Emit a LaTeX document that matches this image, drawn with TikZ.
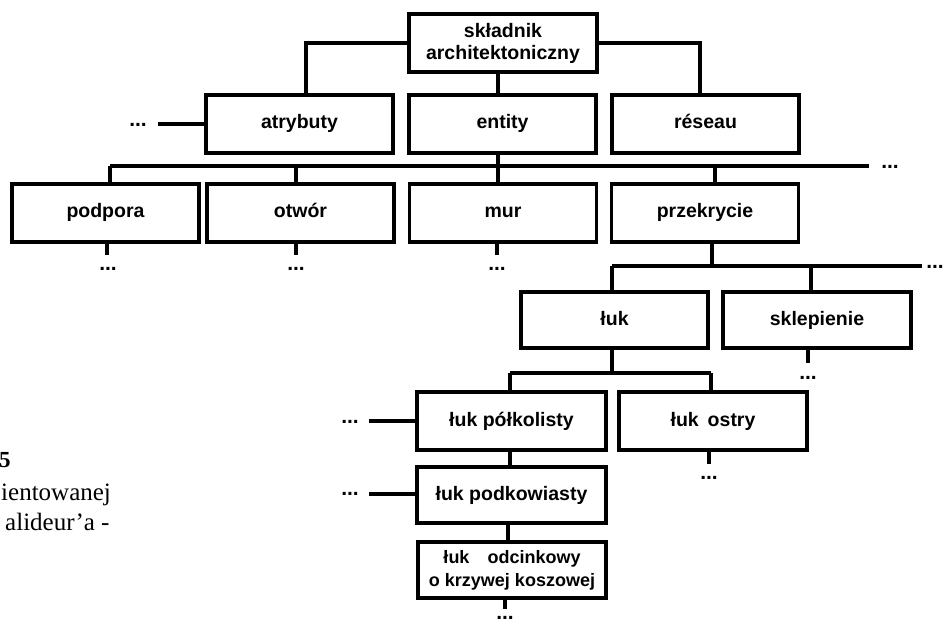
\documentclass[tikz,border=0pt]{standalone}
\usepackage{fontspec}
\setmainfont{Liberation Serif}
\newfontfamily\boxfont{Liberation Sans}
\tikzset{
  boxbase/.style={draw, line width=3.2pt, minimum width=187pt, minimum height=58pt,
    inner sep=0pt, align=center, font=\boxfont\bfseries\fontsize{19.5}{22}\selectfont},
  box/.style={boxbase, text height=14pt, text depth=4pt},
  wire/.style={line width=3.2pt},
  dots/.style={anchor=base, inner sep=0pt, font=\boxfont\bfseries\fontsize{21}{24}\selectfont},
  caption/.style={anchor=base west, inner sep=0pt, font=\fontsize{25}{30}\selectfont},
}
\begin{document}
\begin{tikzpicture}[x=1pt,y=-1pt]
\useasboundingbox (0,0) rectangle (944,628);
\clip (0,0) rectangle (944,628);

% boxes
\node[boxbase, minimum width=188pt] (top) at (503,43) {składnik\\architektoniczny};
\node[box] (atr) at (299.5,124) {atrybuty};
\node[box] (ent) at (502.5,124) {entity};
\node[box] (res) at (705.5,124) {réseau};
\node[box] (pod) at (105.5,213) {podpora};
\node[box] (otw) at (300.5,213) {otwór};
\node[box] (mur) at (503,213) {mur};
\node[box] (prz) at (705,213) {przekrycie};
\node[box, minimum height=56pt] (luk) at (614.5,320) {łuk};
\node[box, minimum height=56pt, minimum width=188pt] (skl) at (817,320) {sklepienie};
\node[box, minimum width=189pt] (polk) at (511.5,421) {łuk półkolisty};
\node[box, minimum width=188pt] (ostry) at (713,421) {łuk\hspace{9pt}ostry};
\node[box, minimum height=56pt, minimum width=189pt] (podk) at (511.5,495) {łuk podkowiasty};
\node[boxbase, minimum height=56pt, minimum width=188pt,
      font=\boxfont\bfseries\fontsize{18}{23}\selectfont] (odc) at (512,570)
      {łuk\hspace{18pt}odcinkowy\\o krzywej koszowej};

% caption fragments
\node[anchor=base west, inner sep=0pt, font=\bfseries\fontsize{23}{26}\selectfont] (c5) at (-1,467) {5};
\node[caption] (c6) at (1,500) {ientowanej};
\node[caption] (c7) at (5,530) {alideur’a -};

% dots
\node[dots] (datr) at (138,127) {...};
\node[dots] (dbus1) at (890,169) {...};
\node[dots] (dpod) at (108,270) {...};
\node[dots] (dotw) at (296,270) {...};
\node[dots] (dmur) at (497,270) {...};
\node[dots] (dbus2) at (935,268) {...};
\node[dots] (dskl) at (808,379) {...};
\node[dots] (dostry) at (709,479) {...};
\node[dots] (dpolk) at (350,423) {...};
\node[dots] (dpodk) at (350,495) {...};
\node[dots] (dodc) at (505,619) {...};

% coordinates
\coordinate (catr) at (158,124);
\coordinate (b1a) at (110,166);
\coordinate (b1b) at (296,166);
\coordinate (b1c) at (498,166);
\coordinate (b1d) at (715,166);
\coordinate (b1e) at (869,166);
\coordinate (u1) at (107,255);
\coordinate (u2) at (296,255);
\coordinate (u3) at (497,255);
\coordinate (b2a) at (612,266);
\coordinate (b2b) at (712,266);
\coordinate (b2c) at (811,266);
\coordinate (b2e) at (922,266);
\coordinate (u4) at (808,363);
\coordinate (b3a) at (510,373);
\coordinate (b3b) at (612,373);
\coordinate (b3c) at (711,373);
\coordinate (u5) at (709,464);
\coordinate (cpolk) at (369,421);
\coordinate (cpodk) at (369,494);
\coordinate (v1) at (510,458);
\coordinate (v2) at (508,532);
\coordinate (u6) at (505,609);

% top level
\draw[wire] (top.west) -| ([xshift=6.5pt]atr.north);
\draw[wire] (top.east) -| ([xshift=-5.5pt]res.north);
\draw[wire] ([xshift=-5pt]top.south) -- ([xshift=-4.5pt]ent.north);
\draw[wire] (atr.west) -- (catr);

% bus 1
\draw[wire] (b1a) -- (b1e);
\draw[wire] (b1c |- ent.south) -- (b1c);
\draw[wire] (b1a) -- (b1a |- pod.north);
\draw[wire] (b1b) -- (b1b |- otw.north);
\draw[wire] (b1c) -- (b1c |- mur.north);
\draw[wire] (b1d) -- (b1d |- prz.north);
\draw[wire] (u1 |- pod.south) -- (u1);
\draw[wire] (u2 |- otw.south) -- (u2);
\draw[wire] (u3 |- mur.south) -- (u3);

% bus 2
\draw[wire] (b2a) -- (b2e);
\draw[wire] (b2b |- prz.south) -- (b2b);
\draw[wire] (b2a) -- (b2a |- luk.north);
\draw[wire] (b2c) -- (b2c |- skl.north);
\draw[wire] (u4 |- skl.south) -- (u4);

% bus 3
\draw[wire] (b3a) -- (b3c);
\draw[wire] (b3b |- luk.south) -- (b3b);
\draw[wire] (b3a) -- (b3a |- polk.north);
\draw[wire] (b3c) -- (b3c |- ostry.north);
\draw[wire] (u5 |- ostry.south) -- (u5);

% chain
\draw[wire] (polk.west) -- (cpolk);
\draw[wire] (v1 |- polk.south) -- (v1 |- podk.north);
\draw[wire] (cpodk) -- (cpodk -| podk.west);
\draw[wire] (v2 |- podk.south) -- (v2 |- odc.north);
\draw[wire] (u6 |- odc.south) -- (u6);
\end{tikzpicture}
\end{document}
